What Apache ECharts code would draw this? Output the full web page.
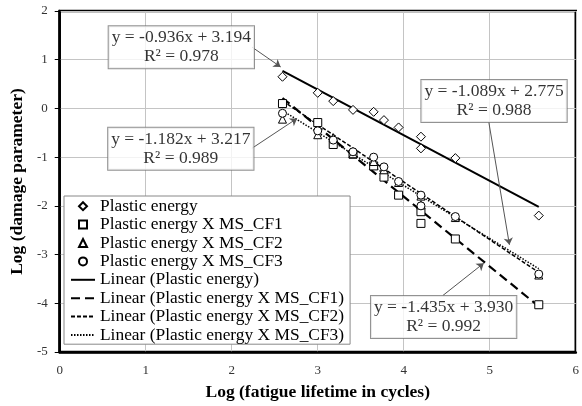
<!DOCTYPE html>
<html>
<head>
<meta charset="utf-8">
<script src="https://cdn.jsdelivr.net/npm/echarts@6/dist/echarts.min.js"></script>
<style>
html, body { margin: 0; padding: 0; background: #fff; }
#main { width: 582px; height: 406px; }
</style>
</head>
<body>
<div id="main"></div>
<script>
// log of fatigue lifetime (cycles) for each test
var lifeLog = [2.59, 3.0, 3.18, 3.41, 3.65, 3.77, 3.94, 4.2, 4.2, 4.6, 5.57];
// log of damage parameter
var plasticEnergy = [0.65, 0.32, 0.15, -0.03, -0.07, -0.24, -0.39, -0.58, -0.82, -1.02, -2.20];
var msCF1 = [0.10, -0.29, -0.74, -0.94, -1.18, -1.41, -1.78, -2.12, -2.36, -2.68, -4.03];
var msCF2 = [-0.22, -0.54, -0.60, -0.93, -1.09, -1.26, -1.52, -1.80, -1.98, -2.24, -3.42];
var msCF3 = [-0.10, -0.46, -0.65, -0.89, -1.00, -1.20, -1.50, -1.78, -2.00, -2.22, -3.40];

var seriesNames = ['Plastic energy', 'Plastic energy X MS_CF1', 'Plastic energy X MS_CF2', 'Plastic energy X MS_CF3'];
var seriesSymbols = ['diamond', 'rect', 'triangle', 'circle'];
// same shapes as paths, so the legend keeps them square
var legendIcons = [
	'path://M0 -1L1 0L0 1L-1 0Z',
	'path://M-1 -1H1V1H-1Z',
	'path://M0 -1L1 1H-1Z',
	'path://M-1 0A1 1 0 1 0 1 0A1 1 0 1 0 -1 0Z'
];

// trend lines: y = slope * x + intercept
var trendSlope = [-0.936, -1.435, -1.182, -1.089];
var trendIntercept = [3.194, 3.930, 3.217, 2.775];
var trendR2 = [0.978, 0.992, 0.989, 0.988];

// equation boxes (which trend, where) and their arrows
var noteTrend = [0, 2, 3, 1];
var noteX = [1.414, 1.408, 5.05, 4.464];
var noteY = [1.256, -0.828, 0.15, -4.28];
var arrowFrom = [[2.238, 1.256], [2.234, -0.82], [4.989, -0.281], [4.455, -3.84]];
var arrowTo = [[2.569, 0.852], [2.76, -0.205], [5.229, -2.80], [4.931, -3.176]];

var yTicks = [-5, 2];
var xTicks = [0, 6];

var SERIF = '"Liberation Serif", "Times New Roman", serif';

function pairs(xs, ys) {
	var out = [];
	for (var i = 0; i < xs.length; i++) {
		out.push([xs[i], ys[i]]);
	}
	return out;
}

function createLifeChart(demoId) {
	var myChart = echarts.init(document.getElementById(demoId));
	var values = [plasticEnergy, msCF1, msCF2, msCF3];
	var xmin = Math.min.apply(null, lifeLog);
	var xmax = Math.max.apply(null, lifeLog);
	var lineTypes = ['solid', [9, 5], [4, 2], [1.5, 1.5]];
	var lineWidths = [2, 2.2, 1.5, 1.5];

	var series = [];
	var legendData = [];
	for (var i = 0; i < values.length; i++) {
		series.push({
			name : seriesNames[i],
			type : 'scatter',
			data : pairs(lifeLog, values[i]),
			symbol : seriesSymbols[i],
			symbolSize : i == 0 ? 9 : 8,
			itemStyle : {
				color : '#ffffff',
				borderColor : '#000000',
				borderWidth : 1,
				opacity : 1
			},
			z : 4
		});
		legendData.push({ name : seriesNames[i], icon : legendIcons[i] });
	}
	for (var j = 0; j < trendSlope.length; j++) {
		var lname = 'Linear (' + seriesNames[j] + ')';
		series.push({
			name : lname,
			type : 'line',
			data : [[xmin, trendSlope[j] * xmin + trendIntercept[j]],
					[xmax, trendSlope[j] * xmax + trendIntercept[j]]],
			symbol : 'none',
			showSymbol : false,
			itemStyle : { color : 'transparent', borderWidth : 0 },
			lineStyle : {
				color : '#000000',
				width : lineWidths[j],
				type : lineTypes[j]
			},
			z : 3
		});
		legendData.push({ name : lname });
	}

	var noteData = [];
	for (var k = 0; k < noteX.length; k++) {
		noteData.push([noteX[k], noteY[k], noteTrend[k]]);
	}
	var arrows = [];
	for (var m = 0; m < arrowFrom.length; m++) {
		arrows.push([{ coord : arrowFrom[m] }, { coord : arrowTo[m] }]);
	}
	series.push({
		name : 'notes',
		type : 'scatter',
		data : noteData,
		symbol : 'circle',
		symbolSize : 1,
		itemStyle : { color : 'transparent' },
		silent : true,
		z : 6,
		label : {
			show : true,
			position : 'inside',
			formatter : function(p) {
				var t = p.value[2];
				return 'y = ' + trendSlope[t].toFixed(3) + 'x + ' + trendIntercept[t].toFixed(3)
						+ '\nR² = ' + trendR2[t].toFixed(3);
			},
			color : '#000000',
			fontFamily : SERIF,
			fontSize : 17.5,
			lineHeight : 19,
			align : 'center',
			backgroundColor : '#ffffff',
			borderColor : '#777777',
			borderWidth : 1,
			padding : [2, 3, 2, 3]
		},
		markLine : {
			silent : true,
			symbol : ['none', 'arrow'],
			symbolSize : 7,
			label : { show : false },
			lineStyle : { color : '#555555', width : 1, type : 'solid' },
			data : arrows
		}
	});

	option = {
		animation : false,
		backgroundColor : '#ffffff',
		textStyle : { fontFamily : SERIF },
		grid : {
			left : 55,
			right : 3,
			top : 11,
			bottom : 53,
			show : true,
			borderColor : '#000000',
			borderWidth : 2.5
		},
		legend : {
			data : legendData,
			orient : 'vertical',
			left : 64,
			top : 196,
			itemWidth : 24,
			itemHeight : 8,
			itemGap : 0,
			itemTextGap : 2,
			symbolKeepAspect : true,
			padding : [1, 6, 0, 6],
			selectedMode : false,
			backgroundColor : '#ffffff',
			borderColor : '#888888',
			borderWidth : 1,
			textStyle : {
				color : '#000000',
				fontFamily : SERIF,
				fontSize : 17.4,
				lineHeight : 18.4
			},
			z : 5
		},
		xAxis : {
			type : 'value',
			min : xTicks[0],
			max : xTicks[1],
			interval : 1,
			name : 'Log (fatigue lifetime in cycles)',
			nameLocation : 'middle',
			nameGap : 31,
			nameTextStyle : {
				color : '#000000',
				fontFamily : SERIF,
				fontSize : 17.5,
				fontWeight : 'bold'
			},
			axisLine : { onZero : false, lineStyle : { color : '#000000', width : 2.5 } },
			axisTick : { show : false },
			axisLabel : { color : '#333333', fontFamily : SERIF, fontSize : 13, margin : 12 },
			splitLine : { lineStyle : { color : '#c4c4c4', width : 1 } }
		},
		yAxis : {
			type : 'value',
			min : yTicks[0],
			max : yTicks[1],
			interval : 1,
			name : 'Log (damage parameter)',
			nameLocation : 'middle',
			nameGap : 29,
			nameTextStyle : {
				color : '#000000',
				fontFamily : SERIF,
				fontSize : 17.5,
				fontWeight : 'bold'
			},
			axisLine : { onZero : false, lineStyle : { color : '#000000', width : 2.5 } },
			axisTick : { show : true, length : 5, lineStyle : { color : '#000000' } },
			axisLabel : { color : '#333333', fontFamily : SERIF, fontSize : 13, margin : 12 },
			splitLine : { lineStyle : { color : '#c4c4c4', width : 1 } }
		},
		series : series
	};
	myChart.setOption(option);
}

createLifeChart('main');
</script>
</body>
</html>
